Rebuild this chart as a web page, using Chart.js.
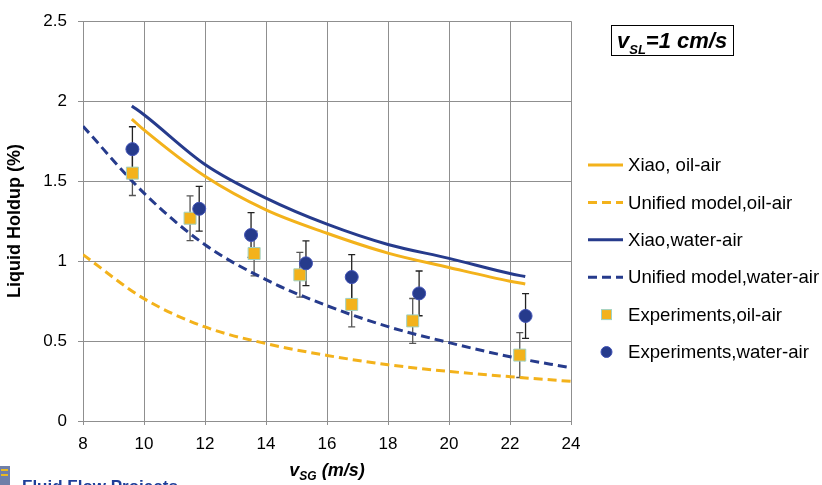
<!DOCTYPE html>
<html>
<head>
<meta charset="utf-8">
<script src="https://cdn.jsdelivr.net/npm/chart.js@4/dist/chart.umd.min.js"></script>
<style>
  html, body { margin: 0; padding: 0; background: #fff; }
  #wrap { width: 822px; height: 485px; position: relative; overflow: hidden; }
  canvas { display: block; }
</style>
</head>
<body>
<div id="wrap"><canvas id="c" width="822" height="485"></canvas></div>
<script>
// Superficial gas velocity (m/s) and liquid holdup (%) at vSL = 1 cm/s
const xiaoX       = [9.6, 10, 12, 14, 16, 18, 20, 22, 22.5];
const xiaoOil     = [1.888, 1.82, 1.53, 1.32, 1.174, 1.05, 0.96, 0.874, 0.857];
const xiaoWater   = [1.97, 1.915, 1.604, 1.394, 1.231, 1.104, 1.017, 0.922, 0.903];

const unifiedX     = [8, 10, 12, 14, 16, 18, 20, 22, 24];
const unifiedOil   = [1.04, 0.765, 0.588, 0.484, 0.41, 0.352, 0.31, 0.277, 0.248];
const unifiedWater = [1.843, 1.425, 1.102, 0.884, 0.721, 0.59, 0.49, 0.402, 0.333];

const expOilX     = [9.62, 11.51, 13.61, 15.11, 16.81, 18.81, 22.32];
const expOilY     = [1.55, 1.268, 1.047, 0.914, 0.729, 0.626, 0.412];
const expOilErr   = [0.14, 0.14, 0.14, 0.14, 0.14, 0.14, 0.14];
const expWaterX   = [9.62, 11.81, 13.51, 15.31, 16.81, 19.02, 22.51];
const expWaterY   = [1.70, 1.327, 1.163, 0.986, 0.900, 0.798, 0.657];
const expWaterErr = [0.14, 0.14, 0.14, 0.14, 0.14, 0.14, 0.14];

const xTicks = [8, 10, 12, 14, 16, 18, 20, 22, 24];
const yTicks = [0, 0.5, 1, 1.5, 2, 2.5];

const seriesNames = [
  'Xiao, oil-air',
  'Unified model,oil-air',
  'Xiao,water-air',
  'Unified model,water-air',
  'Experiments,oil-air',
  'Experiments,water-air'
];

const OIL = '#F3B21B';
const WATER = '#263B8C';
const GRID = '#8f8f8f';
const FONT = "'Liberation Sans', Arial, Helvetica, sans-serif";

const pts = (xs, ys) => xs.map((x, i) => ({ x, y: ys[i] }));

const lineDs = (label, data, color, dash) => ({
  type: 'line',
  label,
  data,
  borderColor: color,
  backgroundColor: color,
  borderWidth: 3,
  borderDash: dash,
  pointRadius: 0,
  pointHoverRadius: 0,
  fill: false,
  cubicInterpolationMode: 'monotone',
  order: 2
});

const datasets = [
  lineDs(seriesNames[0], pts(xiaoX, xiaoOil), OIL, []),
  lineDs(seriesNames[1], pts(unifiedX, unifiedOil), OIL, [9, 5]),
  lineDs(seriesNames[2], pts(xiaoX, xiaoWater), WATER, []),
  lineDs(seriesNames[3], pts(unifiedX, unifiedWater), WATER, [9, 5]),
  {
    type: 'scatter',
    label: seriesNames[4],
    data: pts(expOilX, expOilY),
    errors: expOilErr,
    errColor: '#555555',
    showLine: false,
    pointStyle: 'rect',
    pointRadius: 8.5,
    pointBackgroundColor: OIL,
    pointBorderColor: '#9fd2c4',
    pointBorderWidth: 1,
    order: 1
  },
  {
    type: 'scatter',
    label: seriesNames[5],
    data: pts(expWaterX, expWaterY),
    errors: expWaterErr,
    errColor: '#222222',
    showLine: false,
    pointStyle: 'circle',
    pointRadius: 6.5,
    pointBackgroundColor: WATER,
    pointBorderColor: '#4152b5',
    pointBorderWidth: 1,
    order: 0
  }
];

// Vertical error bars with caps, drawn beneath the markers
const errorBars = {
  id: 'errorBars',
  beforeDatasetsDraw(chart) {
    const { ctx, scales: { x, y } } = chart;
    ctx.save();
    chart.data.datasets.forEach(ds => {
      if (!ds.errors) return;
      ctx.strokeStyle = ds.errColor;
      ctx.lineWidth = 1.3;
      ds.data.forEach((p, i) => {
        const e = ds.errors[i];
        const px = x.getPixelForValue(p.x);
        const top = y.getPixelForValue(p.y + e);
        const bot = y.getPixelForValue(p.y - e);
        ctx.beginPath();
        ctx.moveTo(px, top); ctx.lineTo(px, bot);
        ctx.moveTo(px - 3.5, top); ctx.lineTo(px + 3.5, top);
        ctx.moveTo(px - 3.5, bot); ctx.lineTo(px + 3.5, bot);
        ctx.stroke();
      });
    });
    ctx.restore();
  }
};

// Axis titles with subscripts, condition box, legend and footer text
const decorations = {
  id: 'decorations',
  afterDraw(chart) {
    const ctx = chart.ctx;
    const area = chart.chartArea;
    ctx.save();
    ctx.fillStyle = '#000';
    ctx.textBaseline = 'alphabetic';

    // y-axis title
    ctx.save();
    ctx.translate(20, (area.top + area.bottom) / 2);
    ctx.rotate(-Math.PI / 2);
    ctx.font = `bold 18px ${FONT}`;
    ctx.textAlign = 'center';
    ctx.fillText('Liquid Holdup (%)', 0, 0);
    ctx.restore();

    // x-axis title: vSG (m/s)
    const drawSub = (parts, cx, baseline, align) => {
      let total = 0;
      parts.forEach(p => { ctx.font = p.font; p.w = ctx.measureText(p.t).width; total += p.w; });
      let xx = align === 'center' ? cx - total / 2 : cx;
      ctx.textAlign = 'left';
      parts.forEach(p => { ctx.font = p.font; ctx.fillText(p.t, xx, baseline + (p.dy || 0)); xx += p.w; });
    };
    const xMid = (area.left + area.right) / 2;
    drawSub([
      { t: 'v', font: `italic bold 18px ${FONT}` },
      { t: 'SG', font: `italic bold 12px ${FONT}`, dy: 4 },
      { t: ' (m/s)', font: `italic bold 18px ${FONT}` }
    ], xMid, 476, 'center');

    // condition box
    ctx.strokeStyle = '#000';
    ctx.lineWidth = 1;
    ctx.strokeRect(611.5, 25.5, 122, 30);
    drawSub([
      { t: 'v', font: `italic bold 22px ${FONT}` },
      { t: 'SL', font: `italic bold 13px ${FONT}`, dy: 6 },
      { t: '=1 cm/s', font: `italic bold 22px ${FONT}` }
    ], 617, 48, 'left');

    // legend
    const rowY0 = 165, rowGap = 37.4;
    const sx0 = 588, sx1 = 623, tx = 628;
    chart.data.datasets.forEach((ds, i) => {
      const cy = rowY0 + i * rowGap;
      ctx.save();
      if (ds.type === 'line') {
        ctx.strokeStyle = ds.borderColor;
        ctx.lineWidth = 3;
        ctx.setLineDash(ds.borderDash || []);
        ctx.beginPath();
        ctx.moveTo(sx0, cy); ctx.lineTo(sx1, cy);
        ctx.stroke();
      } else if (ds.pointStyle === 'rect') {
        ctx.fillStyle = ds.pointBackgroundColor;
        ctx.strokeStyle = ds.pointBorderColor;
        ctx.lineWidth = 1;
        ctx.fillRect(601.5, cy - 5, 10, 10);
        ctx.strokeRect(601.5, cy - 5, 10, 10);
      } else {
        ctx.fillStyle = ds.pointBackgroundColor;
        ctx.strokeStyle = ds.pointBorderColor;
        ctx.lineWidth = 1;
        ctx.beginPath();
        ctx.arc(606.5, cy, 5.5, 0, Math.PI * 2);
        ctx.fill(); ctx.stroke();
      }
      ctx.restore();
      ctx.font = `18.6px ${FONT}`;
      ctx.textAlign = 'left';
      ctx.textBaseline = 'middle';
      ctx.fillStyle = '#000';
      ctx.fillText(ds.label, tx, cy + 1);
    });

    // footer: project badge and name
    ctx.textBaseline = 'alphabetic';
    ctx.fillStyle = '#6f7fa8';
    ctx.fillRect(0, 466, 10, 19);
    ctx.fillStyle = '#e8b923';
    ctx.fillRect(1, 469, 7, 2);
    ctx.fillRect(1, 474, 7, 2);
    ctx.fillStyle = '#1f3f9a';
    ctx.font = `bold 17px ${FONT}`;
    ctx.textAlign = 'left';
    ctx.fillText('Fluid Flow Projects', 22, 492);

    ctx.restore();
  }
};

new Chart(document.getElementById('c'), {
  data: { datasets },
  options: {
    responsive: false,
    animation: false,
    devicePixelRatio: 1,
    layout: { padding: { left: 0, right: 251, top: 13, bottom: 0 } },
    plugins: {
      legend: { display: false },
      tooltip: { enabled: false },
      title: { display: false }
    },
    scales: {
      x: {
        type: 'linear',
        min: 8,
        max: 24,
        afterBuildTicks: s => { s.ticks = xTicks.map(v => ({ value: v })); },
        afterFit: s => { s.height = 64; },
        grid: { color: GRID, lineWidth: 1, tickLength: 4, tickColor: GRID },
        border: { color: GRID, width: 1 },
        ticks: { color: '#000', font: { family: FONT, size: 17 }, padding: 9, maxRotation: 0, callback: v => String(v) }
      },
      y: {
        type: 'linear',
        min: 0,
        max: 2.5,
        afterBuildTicks: s => { s.ticks = yTicks.map(v => ({ value: v })); },
        afterFit: s => { s.width = 83; },
        grid: { color: GRID, lineWidth: 1, tickLength: 5, tickColor: GRID },
        border: { color: GRID, width: 1 },
        ticks: { color: '#000', font: { family: FONT, size: 17 }, padding: 11, callback: v => String(v) }
      }
    }
  },
  plugins: [errorBars, decorations]
});
</script>
</body>
</html>
